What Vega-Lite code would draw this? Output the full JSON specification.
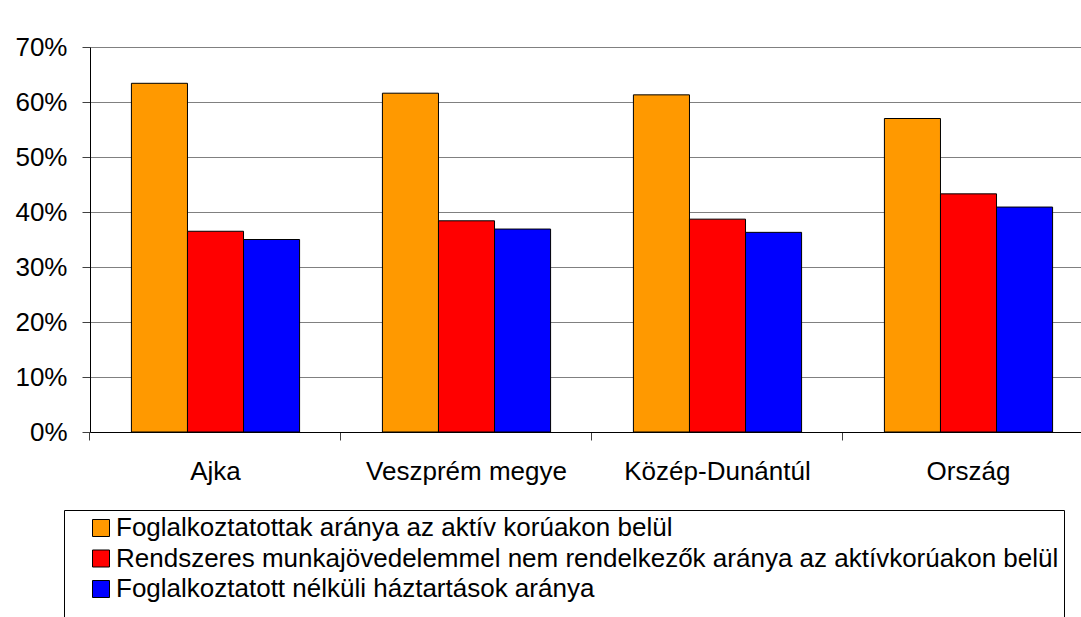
{
  "$schema": "https://vega.github.io/schema/vega-lite/v6.json",
  "width": 991,
  "height": 385,
  "autosize": {"type": "none"},
  "padding": {"left": 90, "top": 47, "right": 0, "bottom": 185},
  "background": "white",
  "config": {
    "font": "Liberation Sans",
    "view": {"stroke": null},
    "axis": {"labelColor": "black", "labelFont": "Liberation Sans"}
  },
  "data": {
    "values": [
      {"region": "Ajka", "series": "Foglalkoztatottak aránya az aktív korúakon belül", "value": 0.634},
      {"region": "Ajka", "series": "Rendszeres munkajövedelemmel nem rendelkezők aránya az aktívkorúakon belül", "value": 0.365},
      {"region": "Ajka", "series": "Foglalkoztatott nélküli háztartások aránya", "value": 0.350},
      {"region": "Veszprém megye", "series": "Foglalkoztatottak aránya az aktív korúakon belül", "value": 0.616},
      {"region": "Veszprém megye", "series": "Rendszeres munkajövedelemmel nem rendelkezők aránya az aktívkorúakon belül", "value": 0.384},
      {"region": "Veszprém megye", "series": "Foglalkoztatott nélküli háztartások aránya", "value": 0.369},
      {"region": "Közép-Dunántúl", "series": "Foglalkoztatottak aránya az aktív korúakon belül", "value": 0.613},
      {"region": "Közép-Dunántúl", "series": "Rendszeres munkajövedelemmel nem rendelkezők aránya az aktívkorúakon belül", "value": 0.387},
      {"region": "Közép-Dunántúl", "series": "Foglalkoztatott nélküli háztartások aránya", "value": 0.363},
      {"region": "Ország", "series": "Foglalkoztatottak aránya az aktív korúakon belül", "value": 0.570},
      {"region": "Ország", "series": "Rendszeres munkajövedelemmel nem rendelkezők aránya az aktívkorúakon belül", "value": 0.433},
      {"region": "Ország", "series": "Foglalkoztatott nélküli háztartások aránya", "value": 0.409}
    ]
  },
  "mark": {"type": "bar", "stroke": "black", "strokeWidth": 1},
  "encoding": {
    "x": {
      "field": "region",
      "type": "nominal",
      "sort": ["Ajka", "Veszprém megye", "Közép-Dunántúl", "Ország"],
      "scale": {"range": [0, 1004], "paddingInner": 0.33, "paddingOuter": 0.165},
      "axis": {
        "title": null,
        "labelAngle": 0,
        "labelFontSize": 26,
        "labelLimit": 2000,
        "labelPadding": 18,
        "tickSize": 8,
        "tickColor": "#404040",
        "bandPosition": -0.247,
        "domainColor": "black",
        "grid": false
      }
    },
    "xOffset": {
      "field": "series",
      "type": "nominal",
      "sort": [
        "Foglalkoztatottak aránya az aktív korúakon belül",
        "Rendszeres munkajövedelemmel nem rendelkezők aránya az aktívkorúakon belül",
        "Foglalkoztatott nélküli háztartások aránya"
      ]
    },
    "y": {
      "field": "value",
      "type": "quantitative",
      "scale": {"domain": [0, 0.7], "nice": false},
      "axis": {
        "title": null,
        "format": ".0%",
        "values": [0, 0.1, 0.2, 0.3, 0.4, 0.5, 0.6, 0.7],
        "labelFontSize": 26,
        "labelPadding": 15,
        "tickSize": 8,
        "tickColor": "#404040",
        "domainColor": "black",
        "grid": true,
        "gridColor": "#808080",
        "gridWidth": 1
      }
    },
    "color": {
      "field": "series",
      "type": "nominal",
      "scale": {
        "domain": [
          "Foglalkoztatottak aránya az aktív korúakon belül",
          "Rendszeres munkajövedelemmel nem rendelkezők aránya az aktívkorúakon belül",
          "Foglalkoztatott nélküli háztartások aránya"
        ],
        "range": ["#FF9900", "#FF0000", "#0000FF"]
      },
      "legend": {
        "title": "\u00a0",
        "titleOrient": "bottom",
        "titleFontSize": 40,
        "titleLimit": 3000,
        "titlePadding": 0,
        "orient": "none",
        "legendX": -26,
        "legendY": 463,
        "direction": "vertical",
        "padding": 5,
        "symbolOffset": 19,
        "symbolType": "square",
        "symbolSize": 289,
        "symbolStrokeColor": "black",
        "symbolStrokeWidth": 1,
        "symbolOpacity": 1,
        "labelFontSize": 26,
        "labelColor": "black",
        "labelOffset": 2,
        "labelLimit": 2000,
        "rowPadding": 4.5,
        "strokeColor": "black",
        "fillColor": "white"
      }
    }
  }
}
